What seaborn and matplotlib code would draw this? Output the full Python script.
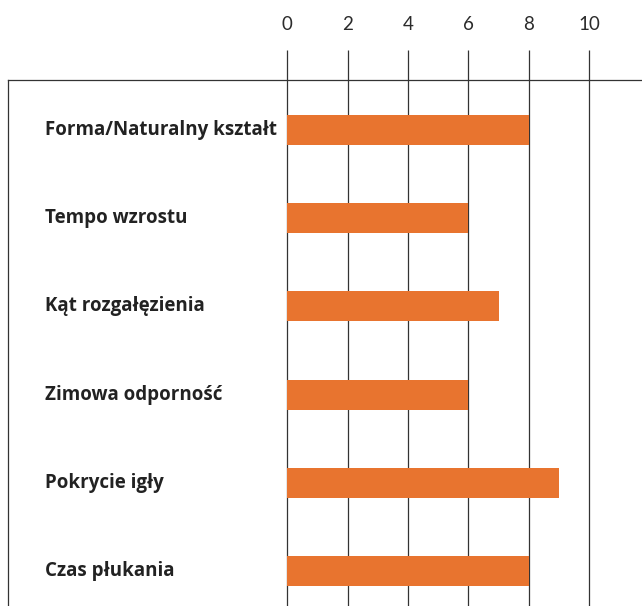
import matplotlib
matplotlib.use("Agg")
import matplotlib.pyplot as plt
import matplotlib.transforms as mtransforms
import pandas as pd
import seaborn as sns

# values
categories = ["Forma/Naturalny kształt", "Tempo wzrostu", "Kąt rozgałęzienia",
              "Zimowa odporność", "Pokrycie igły", "Czas płukania"]
scores = [8, 6, 7, 6, 9, 8]
tick_values = [0, 2, 4, 6, 8, 10]

df = pd.DataFrame({"Kategoria": categories, "Ocena": scores})

sns.set_theme(style="white")
plt.rcParams['font.family'] = ['Lato', 'DejaVu Sans']

fig = plt.figure(figsize=(6.42, 6.06), dpi=100)
ax = fig.add_axes([8 / 642, 0, 634 / 642, 526 / 606])

sns.barplot(data=df, x="Ocena", y="Kategoria", orient="h", color="#E8742F",
            saturation=1, width=0.34, linewidth=0, ax=ax, zorder=3)

# x range chosen so 0 sits under the label column gap
ax.set_xlim(-9.24, 11.75)
ax.set_ylim(5.4, -0.57)

ax.xaxis.tick_top()
ax.set_xticks(tick_values)
ax.set_xticklabels([str(v) for v in tick_values], fontsize=13.5, color="#2b2b2b")
ax.tick_params(axis="x", direction="out", length=21.5, width=0.9,
               color="#333333", pad=12, top=True, bottom=False)
ax.set_yticks([])
ax.set_xlabel("")
ax.set_ylabel("")

for v in tick_values:
    ax.axvline(v, color="#333333", linewidth=0.9, zorder=1)

for side in ["right", "bottom"]:
    ax.spines[side].set_visible(False)
for side in ["left", "top"]:
    ax.spines[side].set_color("#333333")
    ax.spines[side].set_linewidth(0.9)

trans = mtransforms.blended_transform_factory(ax.transAxes, ax.transData)
for i, name in enumerate(categories):
    ax.text(37 / 634, i, name, transform=trans, ha="left", va="center",
            fontsize=13.5, fontweight="bold", color="#222222",
            family=['Open Sans', 'DejaVu Sans'])

fig.savefig("out.png", dpi=100)
